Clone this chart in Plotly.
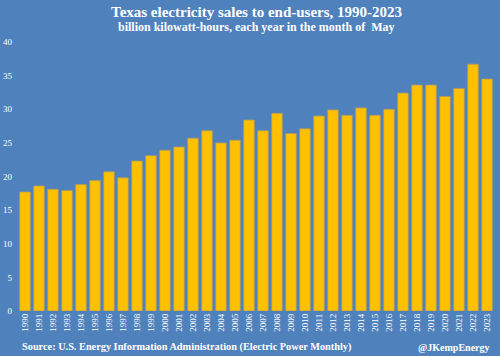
import plotly.graph_objects as go

years = [str(y) for y in range(1990, 2024)]
sales = [17.7, 18.6, 18.1, 17.9, 18.8, 19.4, 20.7, 19.8, 22.3, 23.1,
         23.9, 24.4, 25.7, 26.8, 25.0, 25.4, 28.4, 26.8, 29.4, 26.4,
         27.1, 29.0, 29.9, 29.1, 30.2, 29.1, 30.0, 32.4, 33.6, 33.6,
         31.9, 33.1, 36.7, 34.5]
y_ticks = [0, 5, 10, 15, 20, 25, 30, 35, 40]

BG = "#4F81BD"
FONT = "Liberation Serif"

fig = go.Figure(go.Bar(
    x=years, y=sales,
    marker=dict(color="#FFC000", line=dict(color="#A89A6A", width=0.8)),
    width=0.76,
    hoverinfo="skip",
))

fig.update_layout(
    width=500, height=356,
    paper_bgcolor=BG, plot_bgcolor=BG,
    margin=dict(l=18, r=6, t=42, b=45, autoexpand=False),
    showlegend=False,
    font=dict(family=FONT, color="white"),
    xaxis=dict(type="category", tickangle=-90, showgrid=False, showline=False,
               ticks="", automargin=False,
               tickfont=dict(size=9, family=FONT, color="white"),
               range=[-0.5, 33.5]),
    yaxis=dict(range=[0, 40], tickvals=y_ticks, showgrid=False, zeroline=False,
               showline=False, ticks="", automargin=False, ticklabelstandoff=5,
               tickfont=dict(size=9, family=FONT, color="white")),
    annotations=[
        dict(text="<b>Texas electricity sales to end-users, 1990-2023</b>",
             xref="paper", yref="paper", x=0.5, y=0, xanchor="center", yanchor="middle",
             showarrow=False, font=dict(size=15, family=FONT, color="white")),
        dict(text="<b>billion kilowatt-hours, each year in the month of  May</b>",
             xref="paper", yref="paper", x=0.5, y=0, xanchor="center", yanchor="middle",
             showarrow=False, font=dict(size=12, family=FONT, color="white")),
        dict(text="<b>Source: U.S. Energy Information Administration (Electric Power Monthly)</b>",
             xref="paper", yref="paper", x=0, y=0, xanchor="left", yanchor="middle",
             showarrow=False, font=dict(size=10.3, family=FONT, color="white")),
        dict(text="<b>@JKempEnergy</b>",
             xref="paper", yref="paper", x=1, y=0, xanchor="right", yanchor="middle",
             showarrow=False, font=dict(size=10, family=FONT, color="white")),
    ],
)

# position annotations in pixel terms relative to plot area
plot_h = 356 - 42 - 45
plot_w = 500 - 18 - 6
def py(pix):
    return (356 - 45 - pix) / plot_h

fig.layout.annotations[0].y = py(12)
fig.layout.annotations[1].y = py(27)
fig.layout.annotations[2].y = py(347)
fig.layout.annotations[2].x = (20 - 18) / plot_w
fig.layout.annotations[3].y = py(347)
fig.layout.annotations[3].x = (492 - 18) / plot_w

fig.write_html(
    "out.html",
    config={"displayModeBar": False},
    post_script="document.body.style.margin='0';document.body.style.overflow='hidden';",
)
